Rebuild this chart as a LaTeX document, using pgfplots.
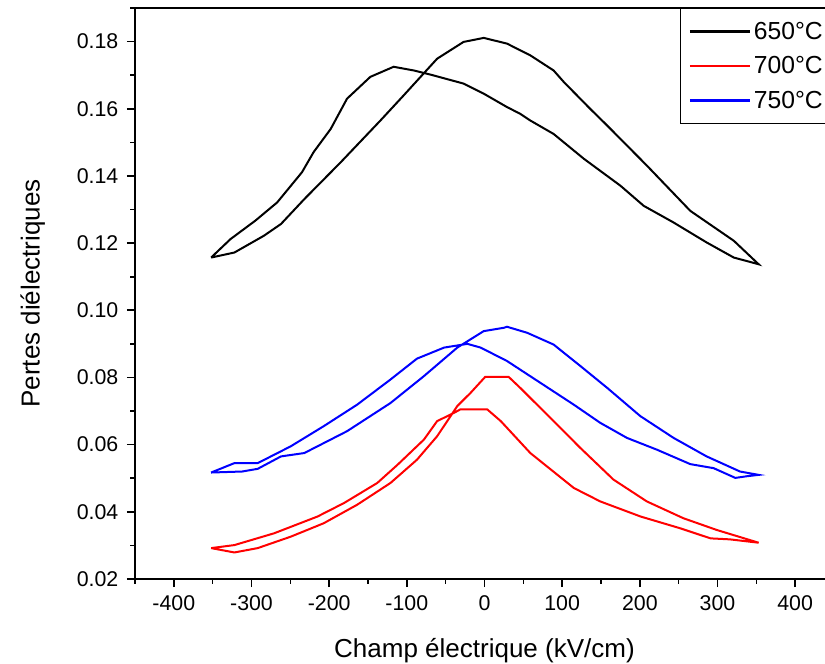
\documentclass[border=0pt]{standalone}
\usepackage{pgfplots}
\pgfplotsset{compat=1.18}
\usepackage{fontspec}
\setmainfont{Liberation Sans}
\begin{document}
\begin{tikzpicture}
\begin{axis}[
  name=ax,
  scale only axis,
  width=524.25pt, height=428.25pt,
  xmin=-450, xmax=450, ymin=0.02, ymax=0.19,
  xtick={-400,-300,...,400},
  minor xtick={-450,-350,...,450},
  ytick={0.02,0.04,...,0.181},
  minor ytick={0.03,0.05,...,0.191},
  xtick pos=left, ytick pos=left,
  tick align=outside,
  major tick length=6pt, minor tick length=3.5pt,
  every tick/.style={black, line width=1.2pt},
  axis line style={line width=1.3pt},
  ticklabel style={font=\fontsize{16}{18}\selectfont},
  xticklabel style={yshift=-3pt},
  /pgf/number format/assume math mode=true,
  yticklabel style={xshift=-3pt, /pgf/number format/.cd, fixed, fixed zerofill, precision=2},
  scaled y ticks=false,
  xlabel={Champ électrique (kV/cm)},
  ylabel={Pertes diélectriques},
  label style={font=\fontsize{19.5}{22}\selectfont},
  xlabel style={yshift=-14pt},
  ylabel style={yshift=17pt},
  legend style={at={(1,1)}, anchor=north east, draw=black, line width=0.9pt,
    font=\fontsize{18.5}{22}\selectfont, row sep=7.5pt, inner xsep=6pt, inner ysep=8pt},
  legend cell align=left,
  legend image code/.code={\draw[#1, line width=2pt] (0pt,0pt) -- (45pt,0pt);},
]
\addplot[black, line width=1.5pt] coordinates {
(-352,0.1157) (-322,0.1172) (-284,0.1222) (-262,0.1257) (-232,0.1331) (-185,0.1441)
(-134,0.1565) (-104,0.164) (-61,0.1749) (-27,0.1799) (-1,0.1811) (29,0.1794) (46,0.1774)
(59,0.1759) (89,0.1714) (102,0.168) (136,0.160) (158,0.155) (209,0.1431) (265,0.1296)
(321,0.1207) (353,0.1137)
(342,0.1144) (321,0.1157) (286,0.1202) (243,0.1262) (205,0.1311) (175,0.1371) (128,0.1451)
(89,0.1525) (59,0.1565) (46,0.1585) (29,0.1605) (-1,0.1645) (-27,0.1675) (-70,0.1702)
(-91,0.1714) (-117,0.1725) (-147,0.1695) (-177,0.163) (-198,0.154) (-220,0.1471)
(-235,0.1411) (-267,0.1321) (-295,0.1267) (-327,0.1212) (-352,0.1157)
};
\addlegendentry{650°C}
\addplot[red, line width=1.5pt] coordinates {
(-352,0.0292) (-322,0.0279) (-292,0.0292) (-249.5,0.0326) (-207,0.0366) (-164,0.0421)
(-121,0.0486) (-87,0.0555) (-61,0.0625) (-35,0.0715) (-18,0.0754) (1,0.0802) (31,0.0802)
(46,0.0769) (76,0.07) (123.5,0.059) (166,0.0496) (209,0.0431) (256,0.0381) (299,0.0346)
(353,0.0308)
(316,0.0318) (291,0.0321) (252,0.0351) (201,0.0386) (149,0.0431) (115,0.0471) (59,0.0575)
(21,0.067) (3.5,0.0705) (-31,0.0705) (-39,0.0695) (-61,0.067) (-78,0.0615) (-112,0.054)
(-138,0.0486) (-181,0.0426) (-215,0.0386) (-271,0.0336) (-322,0.0301) (-352,0.0292)
};
\addlegendentry{700°C}
\addplot[blue, line width=1.5pt] coordinates {
(-352,0.0517) (-312,0.052) (-292,0.0528) (-262,0.0565) (-232,0.0575) (-177,0.064)
(-121,0.0724) (-78,0.0804) (-35,0.0889) (-1,0.0938) (25,0.0948) (29,0.0951) (55,0.0933)
(89,0.0898) (123.5,0.0834) (158,0.0769) (200.6,0.0685) (243.5,0.062) (286,0.0565)
(329,0.052) (353,0.051)
(338,0.0506) (323,0.0501) (295,0.053) (265,0.0542) (222,0.0585) (183.5,0.062) (149,0.0665)
(115,0.0719) (72,0.0784) (29,0.0849) (-5,0.0889) (-22,0.09) (-52,0.0889) (-87,0.0856)
(-121,0.0794) (-164,0.0719) (-207,0.0655) (-249.5,0.0595) (-292,0.0545) (-322,0.0545)
(-352,0.0517)
};
\addlegendentry{750°C}
\end{axis}
\pgfresetboundingbox
\path[use as bounding box] ([xshift=-101.25pt,yshift=-63.75pt]ax.south west) rectangle ([xshift=517.5pt,yshift=434.25pt]ax.south west);
\end{tikzpicture}
\end{document}
